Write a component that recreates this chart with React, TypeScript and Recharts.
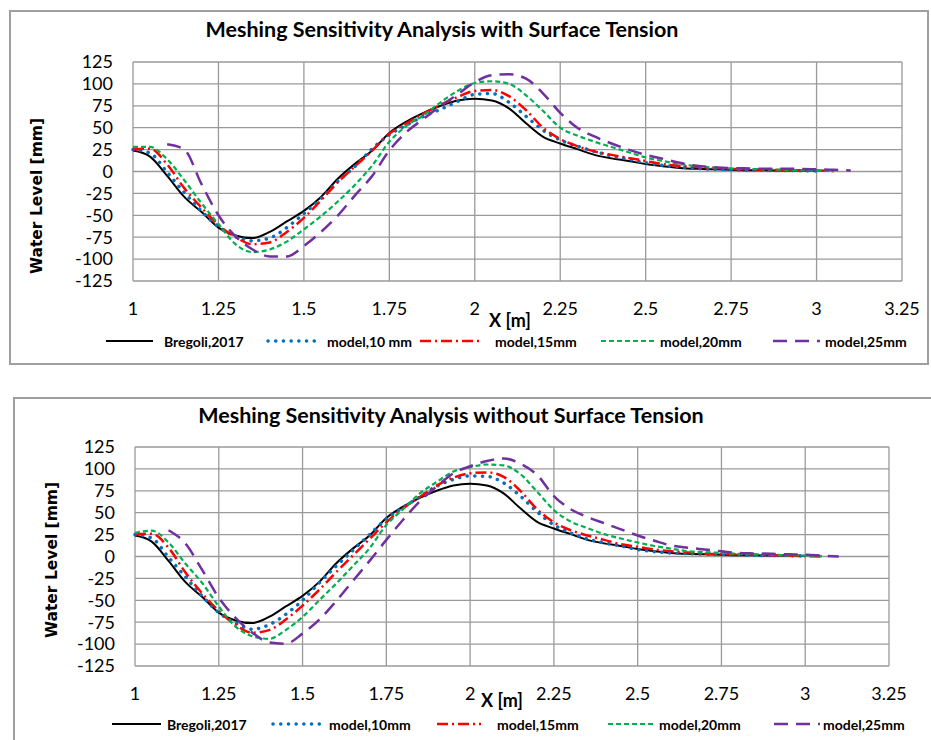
import { LineChart, Line, XAxis, YAxis, CartesianGrid } from "recharts";

// x positions shared by every series [m]
const X_M = [
  1.0, 1.05, 1.1, 1.15, 1.2, 1.25, 1.3, 1.35, 1.4, 1.45, 1.5, 1.55, 1.6, 1.65, 1.7,
  1.75, 1.8, 1.85, 1.9, 1.95, 2.0, 2.05, 2.1, 2.15, 2.2, 2.25, 2.3, 2.35, 2.4, 2.45,
  2.5, 2.55, 2.6, 2.65, 2.7, 2.75, 2.8, 2.85, 2.9, 2.95, 3.0, 3.05, 3.1,
];

const X_TICKS = [1, 1.25, 1.5, 1.75, 2, 2.25, 2.5, 2.75, 3, 3.25];
const Y_TICKS = [-125, -100, -75, -50, -25, 0, 25, 50, 75, 100, 125];

// experiment (same in both charts) [mm]
const BREGOLI = [
  24, 17, -5, -29, -46, -64, -73, -76, -69, -57, -45, -29, -8, 9, 24,
  44, 57, 67, 75, 81, 83, 81, 72, 55, 39.5, 32, 25.5, 19, 15, 12,
  8.5, 6, 4, 3, 2.5, 2, 1.5, 1.5, 1, 1, 0.5, null, null,
];

// with surface tension
const ST_10MM = [
  25, 21, -1, -24, -45, -63, -74, -79, -76, -64, -48, -31, -11, 6, 26,
  42, 53, 63, 71, 80, 88, 89, 79, 63, 47, 36, 29, 23, 18, 14,
  10, 7, 5, 3.5, 2.5, 2, 1.5, 1.5, 1, 1, 0.5, null, null,
];
const ST_15MM = [
  25, 26, 8, -19, -41, -61, -75, -83, -81, -69, -53, -33, -12, 6, 24,
  43, 55, 66, 76, 85, 92, 93, 86, 70, 50, 37, 29, 23, 19, 15.5,
  12, 8.5, 6.5, 5, 4, 3, 2.5, 2, 1.5, 1, 1, 0.5, null,
];
const ST_20MM = [
  28, 28, 14, -10, -36, -60, -83, -92, -89, -80, -66, -51, -34, -15, 7,
  34, 52, 64, 79, 92, 101, 103, 100, 87, 69, 50, 41, 34, 28, 22,
  16, 12, 8.5, 6, 4.5, 3.5, 3, 2.5, 2, 1.5, 1, 0.5, null,
];
const ST_25MM = [
  null, null, 31, 25, -14, -50, -74, -89, -97, -97, -85, -69, -50, -27, -5,
  24, 45, 60, 75, 88, 102, 110, 111, 106, 89, 67, 50, 40, 32, 25,
  19, 14.5, 10, 6.5, 5, 4, 3.5, 3, 3, 3, 2.5, 2, 1,
];

// without surface tension
const NST_10MM = [
  25, 21, -1, -23, -45, -64, -76, -83, -78, -66, -50, -30, -11, 7, 25,
  43, 56, 68, 80, 88, 92, 91.5, 84, 69, 51, 36, 27, 20, 15.5, 12,
  8, 5.5, 4, 3.2, 2.7, 2.2, 2, 1.5, 1, 1, 0.5, null, null,
];
const NST_15MM = [
  25, 26, 10, -18, -42, -62, -78, -87, -84, -72, -56, -38, -18, 1, 20,
  39, 55, 68, 81, 90, 95, 96, 91, 75, 54, 39, 30, 24, 19, 14,
  11, 8, 6, 4.5, 3.2, 2.8, 2.3, 2, 1.5, 1, 0.5, 0, null,
];
const NST_20MM = [
  27, 29.5, 16, -8, -30, -57, -80, -91, -94, -84, -69, -50, -31, -11, 9.5,
  36, 54, 72, 85, 97, 102, 105, 104, 94, 74, 53, 40, 32.5, 25.5, 20.5,
  16, 12, 9, 6, 5, 4, 3, 2.5, 2, 1.5, 1, 0.5, null,
];
const NST_25MM = [
  null, null, 30, 15, -15, -47, -70, -87, -98, -99.5, -88, -72, -51, -28, -5,
  19, 42, 63, 80, 95, 103, 109, 112, 106, 93, 69, 54, 45, 38, 31,
  24, 18, 12.5, 10, 8, 6, 4, 3.5, 3, 2.5, 2, 1, 0,
];

const NAMES_ST = ["Bregoli,2017", "model,10 mm", "model,15mm", "model,20mm", "model,25mm"];
const NAMES_NST = ["Bregoli,2017", "model,10mm", "model,15mm", "model,20mm", "model,25mm"];

const STYLES = [
  { color: "#000000", width: 2, dash: undefined, cap: "butt" },
  { color: "#0070C0", width: 3.5, dash: "0.1 7.6", cap: "round" },
  { color: "#FF0000", width: 2.5, dash: "11 4 2 4", cap: "butt" },
  { color: "#00B050", width: 2.2, dash: "5 3", cap: "butt" },
  { color: "#7030A0", width: 2.5, dash: "14 8", cap: "butt" },
];

const FONT = "Lato, 'Open Sans', sans-serif";
const KEYS = ["s0", "s1", "s2", "s3", "s4"];

type PanelCfg = {
  title: string;
  names: string[];
  series: (number | null)[][];
  box: { left: number; top: number; w: number; h: number };
  chartTop: number;
  chartH: number;
  margin: { top: number; right: number; bottom: number; left: number };
  titleAt: [number, number];
  yLabelAt: [number, number];
  xLabelAt: [number, number];
  legendY: number;
  legendX: [number, number, number][]; // line start, line end, text start
};

function Panel({ cfg }: { cfg: PanelCfg }) {
  const rows = X_M.map((x, i) => {
    const r: Record<string, number | null> = { x };
    cfg.series.forEach((s, k) => (r[KEYS[k]] = s[i] ?? null));
    return r;
  });

  return (
    <>
      <div
        style={{
          position: "absolute",
          left: cfg.box.left,
          top: cfg.box.top,
          width: cfg.box.w,
          height: cfg.box.h,
          border: "2px solid #9f9f9f",
          boxSizing: "border-box",
          background: "#fff",
        }}
      />
      <div style={{ position: "absolute", left: 0, top: cfg.chartTop }}>
        <LineChart width={931} height={cfg.chartH} data={rows} margin={cfg.margin}>
          <CartesianGrid stroke="#9a9a9a" strokeWidth={1.3} />
          <XAxis
            dataKey="x"
            type="number"
            domain={[1, 3.25]}
            ticks={X_TICKS}
            interval={0}
            axisLine={false}
            tickLine={false}
            tickSize={0}
            tickMargin={21}
            height={30}
            tick={{ fill: "#000", fontSize: 18, fontFamily: FONT }}
          />
          <YAxis
            type="number"
            domain={[-125, 125]}
            ticks={Y_TICKS}
            interval={0}
            allowDataOverflow
            axisLine={false}
            tickLine={false}
            tickSize={0}
            tickMargin={20}
            width={60}
            tick={{ fill: "#000", fontSize: 18, fontFamily: FONT }}
          />
          {STYLES.map((st, k) => (
            <Line
              key={k}
              dataKey={KEYS[k]}
              type="monotone"
              stroke={st.color}
              strokeWidth={st.width}
              strokeDasharray={st.dash}
              strokeLinecap={st.cap as any}
              dot={false}
              activeDot={false}
              isAnimationActive={false}
            />
          ))}
        </LineChart>
      </div>
      <svg
        width={931}
        height={740}
        style={{ position: "absolute", left: 0, top: 0, pointerEvents: "none" }}
      >
        <text
          x={cfg.titleAt[0]}
          y={cfg.titleAt[1]}
          textAnchor="middle"
          dominantBaseline="central"
          fontFamily={FONT}
          fontWeight="bold"
          fontSize={21.5}
        >
          {cfg.title}
        </text>
        <text
          x={cfg.yLabelAt[0]}
          y={cfg.yLabelAt[1]}
          transform={`rotate(-90 ${cfg.yLabelAt[0]} ${cfg.yLabelAt[1]})`}
          textAnchor="middle"
          dominantBaseline="central"
          fontFamily="'DejaVu Sans', sans-serif"
          fontWeight="bold"
          fontSize={15.5}
        >
          Water Level [mm]
        </text>
        <text
          x={cfg.xLabelAt[0]}
          y={cfg.xLabelAt[1]}
          textAnchor="middle"
          dominantBaseline="central"
          fontFamily={FONT}
          fontWeight="bold"
          fontSize={18}
        >
          X [m]
        </text>
        {STYLES.map((st, k) => (
          <g key={k}>
            <line
              x1={cfg.legendX[k][0]}
              x2={cfg.legendX[k][1]}
              y1={cfg.legendY}
              y2={cfg.legendY}
              stroke={st.color}
              strokeWidth={st.width}
              strokeDasharray={st.dash}
              strokeLinecap={st.cap as any}
            />
            <text
              x={cfg.legendX[k][2]}
              y={cfg.legendY}
              dominantBaseline="central"
              fontFamily={FONT}
              fontWeight="bold"
              fontSize={14}
            >
              {cfg.names[k]}
            </text>
          </g>
        ))}
      </svg>
    </>
  );
}

const TOP: PanelCfg = {
  title: "Meshing Sensitivity Analysis with Surface Tension",
  names: NAMES_ST,
  series: [BREGOLI, ST_10MM, ST_15MM, ST_20MM, ST_25MM],
  box: { left: 9, top: 10, w: 920, h: 355 },
  chartTop: 0,
  chartH: 370,
  margin: { top: 62, right: 29, bottom: 59, left: 73 },
  titleAt: [442, 29],
  yLabelAt: [37, 196],
  xLabelAt: [510, 320],
  legendY: 341,
  legendX: [
    [106, 153, 164],
    [268, 318, 327],
    [420, 481, 495],
    [601, 655, 660],
    [773, 820, 825],
  ],
};

const BOTTOM: PanelCfg = {
  title: "Meshing Sensitivity Analysis without Surface Tension",
  names: NAMES_NST,
  series: [BREGOLI, NST_10MM, NST_15MM, NST_20MM, NST_25MM],
  box: { left: 13, top: 397, w: 940, h: 380 },
  chartTop: 380,
  chartH: 360,
  margin: { top: 67, right: 42, bottom: 44, left: 75 },
  titleAt: [451, 415],
  yLabelAt: [52, 560],
  xLabelAt: [502, 700],
  legendY: 724,
  legendX: [
    [112, 161, 167],
    [273, 321, 329],
    [437, 481, 497],
    [608, 655, 659],
    [774, 820, 823],
  ],
};

export default function App() {
  return (
    <div
      style={{
        position: "absolute",
        left: 0,
        top: 0,
        width: 931,
        height: 740,
        overflow: "hidden",
        background: "#fff",
      }}
    >
      <Panel cfg={TOP} />
      <Panel cfg={BOTTOM} />
    </div>
  );
}
